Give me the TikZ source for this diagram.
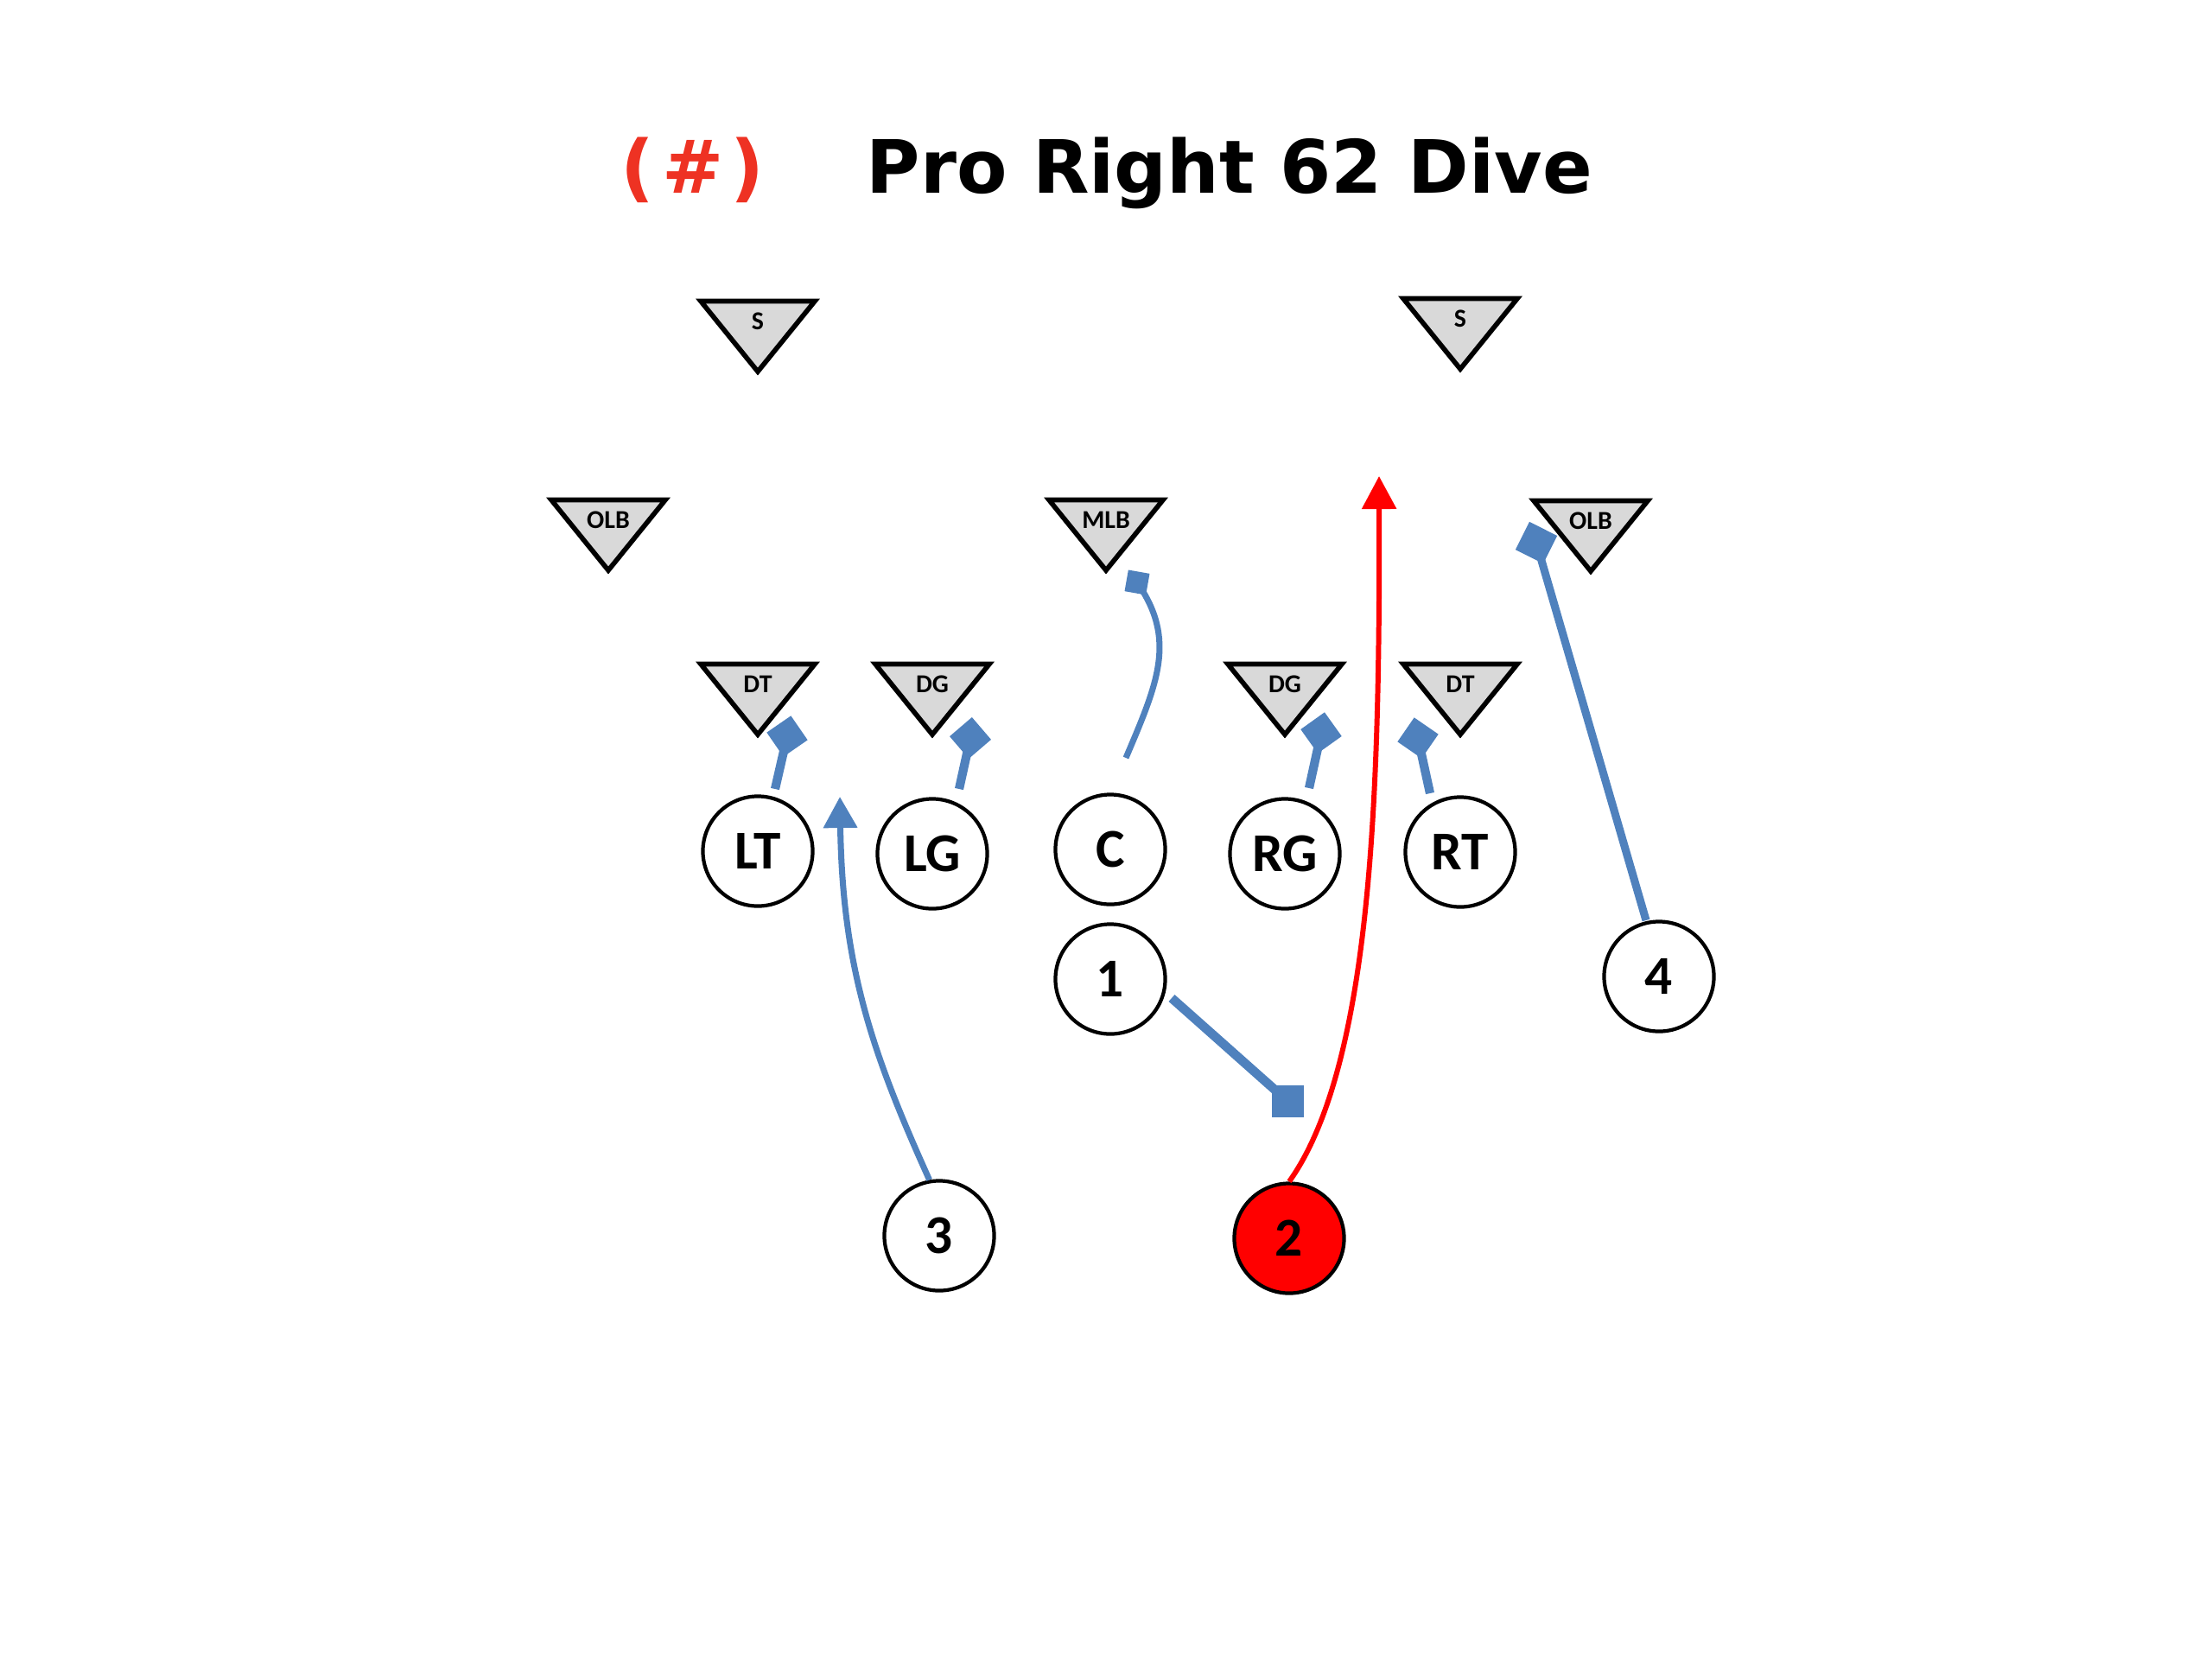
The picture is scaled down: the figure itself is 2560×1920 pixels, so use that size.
\documentclass[tikz,border=0pt]{standalone}
\usepackage{fontspec}
\newfontfamily\titlefont{DejaVu Sans}
\newfontfamily\calfont{Carlito}
\usetikzlibrary{arrows.meta,calc}
\definecolor{pblue}{RGB}{79,129,189}
\definecolor{dgrey}{RGB}{217,217,217}
\definecolor{titlered}{RGB}{238,50,35}
\definecolor{routered}{RGB}{255,0,0}
\tikzset{
  offman/.style={circle, draw=black, line width=1.2pt, fill=white, minimum size=1.27cm, inner sep=0pt,
    font=\calfont\bfseries\fontsize{18}{18}\selectfont},
  carrier/.style={offman, fill=routered},
  deftri/.style={draw=black, fill=dgrey, line width=1.6pt, line join=miter},
  deflabel/.style={inner sep=0pt, font=\calfont\bfseries\fontsize{8.5}{8.5}\selectfont},
  blocksq/.style={fill=pblue, draw=none, inner sep=0pt, minimum size=#1},
  blocksq/.default=0.34cm,
  blockline/.style={draw=pblue, line width=#1},
  blockline/.default=2.9pt,
  runroute/.style={draw=routered, line width=1.7pt, -{Triangle[length=0.38cm,width=0.39cm]}},
  blueroute/.style={draw=pblue, line width=2pt, -{Triangle[length=0.36cm,width=0.38cm]}},
  titletext/.style={anchor=base west, inner sep=0pt, font=\titlefont\bfseries\fontsize{24.2}{28}\selectfont},
}
\newcommand\defman[4]{%
  \draw[deftri] (#2-66,#3+2.5) -- (#2+66,#3+2.5) -- (#2,#3+84) -- cycle;
  \node[deflabel] (#1) at (#2,#3+26) {#4};}
\begin{document}
\begin{tikzpicture}[x=0.01cm, y=-0.01cm]
\useasboundingbox (0,0) rectangle (2560,1920);
% title
\node[titletext, text=titlered] (num) at (718,223) {(\kern0.1em\#\kern0.1em)};
\node[titletext, text=black] (title) at (1002,223) {Pro Right 62 Dive};
% defense
\defman{SL}{877}{346}{S}
\defman{SR}{1690}{343}{S}
\defman{OLBL}{704}{576}{OLB}
\defman{MLB}{1280}{576}{MLB}
\defman{OLBR}{1841}{577}{OLB}
\defman{DTL}{877}{766}{DT}
\defman{DGL}{1079}{766}{DG}
\defman{DGR}{1487}{766}{DG}
\defman{DTR}{1690}{766}{DT}
% offense
\node[offman] (LT) at (877,985) {LT};
\node[offman] (LG) at (1079,988) {LG};
\node[offman] (C) at (1285,983) {C};
\node[offman] (RG) at (1487,988) {RG};
\node[offman] (RT) at (1690,986) {RT};
\node[offman] (P1) at (1285,1133) {1};
\node[offman] (P4) at (1920,1130) {4};
\node[offman] (P3) at (1087,1430) {3};
\node[carrier] (P2) at (1492,1433) {2};
% block squares
\node[blocksq, rotate=34.6] (ltB) at (911,852) {};
\node[blocksq, rotate=40.6] (lgB) at (1123,854) {};
\node[blocksq, rotate=35.5] (rgB) at (1529,848) {};
\node[blocksq, rotate=55.4] (rtB) at (1641,854) {};
\node[blocksq=0.36cm, rotate=-26.6] (olbB) at (1778,628) {};
\node[blocksq=0.37cm] (p1B) at (1490,1274) {};
\node[blocksq=0.25cm, rotate=-10] (mlbB) at (1316,674) {};
% blocks
\draw[blockline] ($(LT)+(20,-72)$) -- (ltB.center);
\draw[blockline] ($(LG)+(31,-75)$) -- (lgB.center);
\draw[blockline] ($(RG)+(28,-76)$) -- (rgB.center);
\draw[blockline] ($(RT)+(-35,-68)$) -- (rtB.center);
\draw[blockline=2.6pt] ($(P4)+(-15,-65)$) -- (olbB.center);
\draw[blockline=3pt] ($(P1)+(71,22)$) -- (p1B.center);
\draw[blockline=2pt] ($(C)+(18,-106)$) .. controls (1340,790) and (1362,740) .. (mlbB.center);
% routes
\coordinate (tip2) at (1596,551);
\coordinate (tip3) at (972,922);
\draw[runroute] (P2.north) .. controls (1590,1230) and (1597,900) .. (tip2);
\draw[blueroute] (P3.100) .. controls (1010,1220) and (975,1120) .. (tip3);
\end{tikzpicture}
\end{document}
